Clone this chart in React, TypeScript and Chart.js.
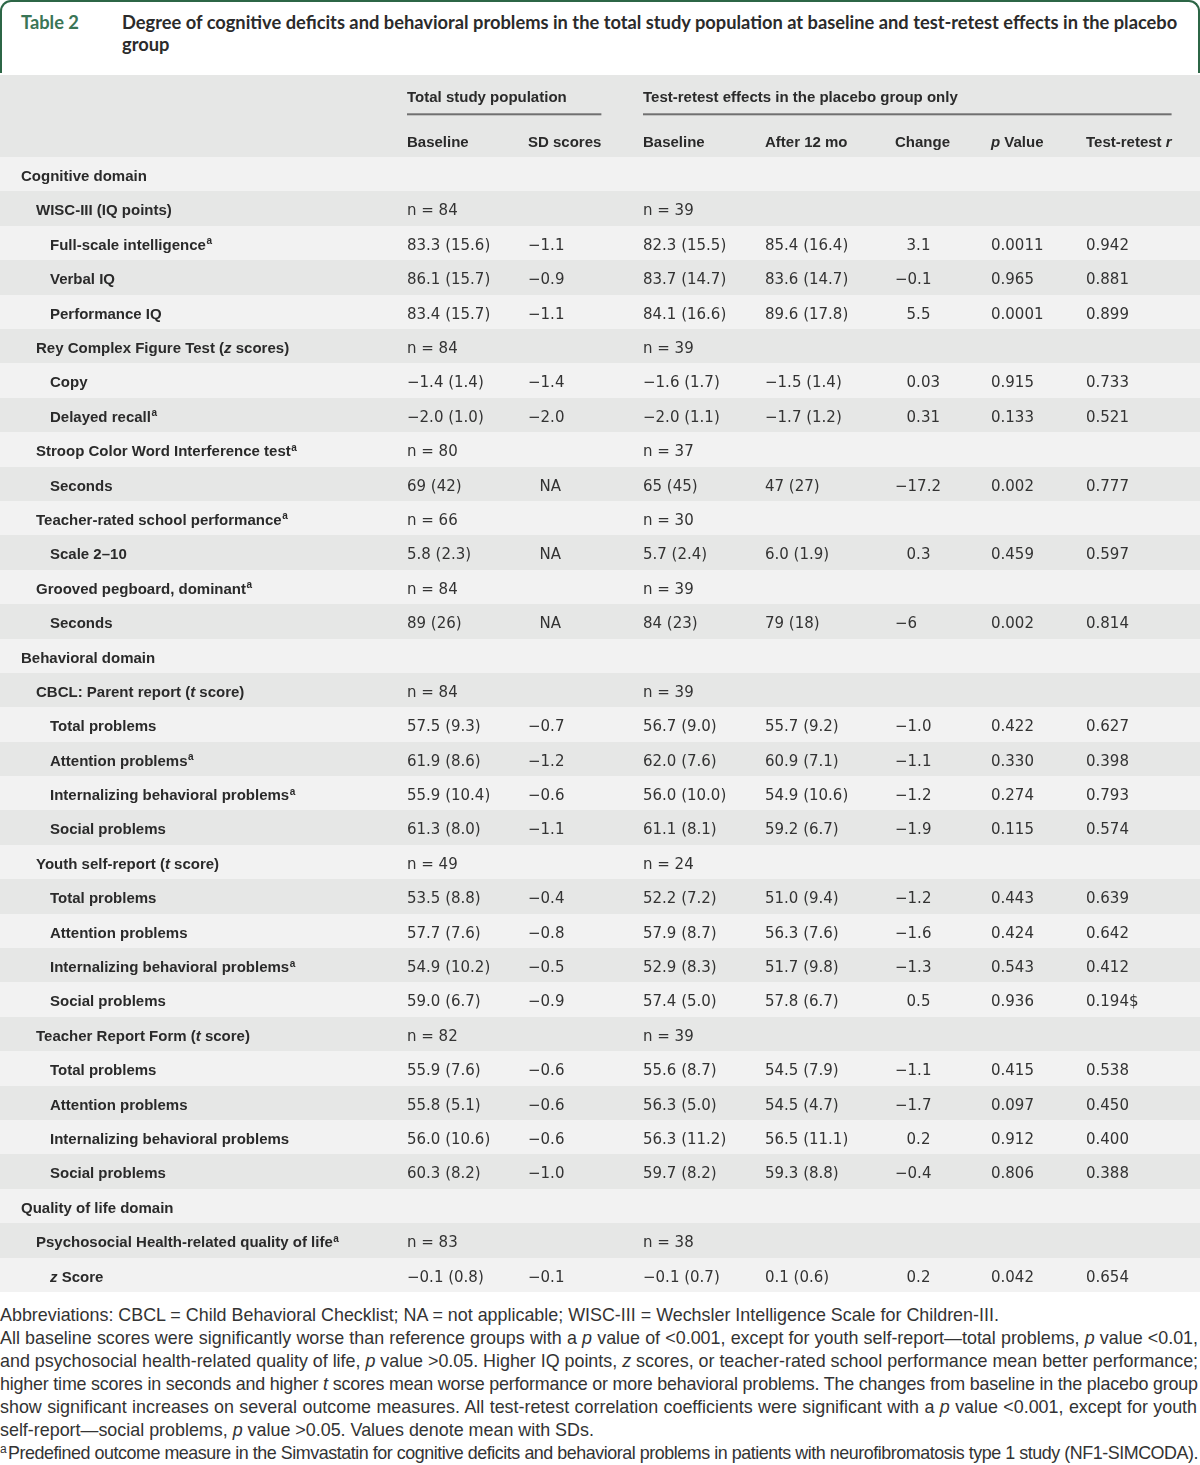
import React, { useEffect, useMemo, useRef } from "react";
import { Chart, registerables } from "chart.js";

Chart.register(...registerables);

// ---------- data ----------
const tableNumber = "Table 2";
const titleLines = [
  "Degree of cognitive deficits and behavioral problems in the total study population at baseline and test-retest effects in the placebo",
  "group",
];

const headerGroups = ["Total study population", "Test-retest effects in the placebo group only"];
const columnHeaders = ["Baseline", "SD scores", "Baseline", "After 12 mo", "Change", "_p_ Value", "Test-retest _r_"];

const rowLabels = [
  "Cognitive domain",
  "WISC-III (IQ points)",
  "Full-scale intelligence",
  "Verbal IQ",
  "Performance IQ",
  "Rey Complex Figure Test (_z_ scores)",
  "Copy",
  "Delayed recall",
  "Stroop Color Word Interference test",
  "Seconds",
  "Teacher-rated school performance",
  "Scale 2–10",
  "Grooved pegboard, dominant",
  "Seconds",
  "Behavioral domain",
  "CBCL: Parent report (_t_ score)",
  "Total problems",
  "Attention problems",
  "Internalizing behavioral problems",
  "Social problems",
  "Youth self-report (_t_ score)",
  "Total problems",
  "Attention problems",
  "Internalizing behavioral problems",
  "Social problems",
  "Teacher Report Form (_t_ score)",
  "Total problems",
  "Attention problems",
  "Internalizing behavioral problems",
  "Social problems",
  "Quality of life domain",
  "Psychosocial Health-related quality of life",
  "_z_ Score",
];

const rowLevels = [0, 1, 2, 2, 2, 1, 2, 2, 1, 2, 1, 2, 1, 2, 0, 1, 2, 2, 2, 2, 1, 2, 2, 2, 2, 1, 2, 2, 2, 2, 0, 1, 2];

const rowFootnoteA = [
  false, false, true, false, false, false, false, true, true, false, true, false, true, false,
  false, false, false, true, true, false, false, false, false, true, false, false, false, false,
  false, false, false, true, false,
];

const totalBaseline = [
  "", "n = 84", "83.3 (15.6)", "86.1 (15.7)", "83.4 (15.7)", "n = 84", "−1.4 (1.4)", "−2.0 (1.0)",
  "n = 80", "69 (42)", "n = 66", "5.8 (2.3)", "n = 84", "89 (26)", "", "n = 84", "57.5 (9.3)",
  "61.9 (8.6)", "55.9 (10.4)", "61.3 (8.0)", "n = 49", "53.5 (8.8)", "57.7 (7.6)", "54.9 (10.2)",
  "59.0 (6.7)", "n = 82", "55.9 (7.6)", "55.8 (5.1)", "56.0 (10.6)", "60.3 (8.2)", "", "n = 83", "−0.1 (0.8)",
];

const sdScores = [
  "", "", "−1.1", "−0.9", "−1.1", "", "−1.4", "−2.0", "", "NA", "", "NA", "", "NA", "", "", "−0.7",
  "−1.2", "−0.6", "−1.1", "", "−0.4", "−0.8", "−0.5", "−0.9", "", "−0.6", "−0.6", "−0.6", "−1.0", "", "", "−0.1",
];

const placeboBaseline = [
  "", "n = 39", "82.3 (15.5)", "83.7 (14.7)", "84.1 (16.6)", "n = 39", "−1.6 (1.7)", "−2.0 (1.1)",
  "n = 37", "65 (45)", "n = 30", "5.7 (2.4)", "n = 39", "84 (23)", "", "n = 39", "56.7 (9.0)",
  "62.0 (7.6)", "56.0 (10.0)", "61.1 (8.1)", "n = 24", "52.2 (7.2)", "57.9 (8.7)", "52.9 (8.3)",
  "57.4 (5.0)", "n = 39", "55.6 (8.7)", "56.3 (5.0)", "56.3 (11.2)", "59.7 (8.2)", "", "n = 38", "−0.1 (0.7)",
];

const after12Months = [
  "", "", "85.4 (16.4)", "83.6 (14.7)", "89.6 (17.8)", "", "−1.5 (1.4)", "−1.7 (1.2)", "", "47 (27)",
  "", "6.0 (1.9)", "", "79 (18)", "", "", "55.7 (9.2)", "60.9 (7.1)", "54.9 (10.6)", "59.2 (6.7)", "",
  "51.0 (9.4)", "56.3 (7.6)", "51.7 (9.8)", "57.8 (6.7)", "", "54.5 (7.9)", "54.5 (4.7)", "56.5 (11.1)",
  "59.3 (8.8)", "", "", "0.1 (0.6)",
];

const changeValues = [
  "", "", "3.1", "−0.1", "5.5", "", "0.03", "0.31", "", "−17.2", "", "0.3", "", "−6", "", "", "−1.0",
  "−1.1", "−1.2", "−1.9", "", "−1.2", "−1.6", "−1.3", "0.5", "", "−1.1", "−1.7", "0.2", "−0.4", "", "", "0.2",
];

const pValues = [
  "", "", "0.0011", "0.965", "0.0001", "", "0.915", "0.133", "", "0.002", "", "0.459", "", "0.002", "",
  "", "0.422", "0.330", "0.274", "0.115", "", "0.443", "0.424", "0.543", "0.936", "", "0.415", "0.097",
  "0.912", "0.806", "", "", "0.042",
];

const testRetestR = [
  "", "", "0.942", "0.881", "0.899", "", "0.733", "0.521", "", "0.777", "", "0.597", "", "0.814", "",
  "", "0.627", "0.398", "0.793", "0.574", "", "0.639", "0.642", "0.412", "0.194$", "", "0.538", "0.450",
  "0.400", "0.388", "", "", "0.654",
];

const footnoteLines = [
  "Abbreviations: CBCL = Child Behavioral Checklist; NA = not applicable; WISC-III = Wechsler Intelligence Scale for Children-III.",
  "All baseline scores were significantly worse than reference groups with a _p_ value of <0.001, except for youth self-report—total problems, _p_ value <0.01,",
  "and psychosocial health-related quality of life, _p_ value >0.05. Higher IQ points, _z_ scores, or teacher-rated school performance mean better performance;",
  "higher time scores in seconds and higher _t_ scores mean worse performance or more behavioral problems. The changes from baseline in the placebo group",
  "show significant increases on several outcome measures. All test-retest correlation coefficients were significant with a _p_ value <0.001, except for youth",
  "self-report—social problems, _p_ value >0.05. Values denote mean with SDs.",
  "Predefined outcome measure in the Simvastatin for cognitive deficits and behavioral problems in patients with neurofibromatosis type 1 study (NF1-SIMCODA).",
];
const footnoteJustified = [false, true, true, true, true, false, true];

// ---------- layout / style ----------
const columns = [totalBaseline, sdScores, placeboBaseline, after12Months, changeValues, pValues, testRetestR];
const colX = [407, 528, 643, 765, 895, 991, 1086];
const colHangMinus = [false, true, false, false, true, false, false];
const headerGroupSpan = [
  [0, 1],
  [2, 6],
];
const levelX = [21, 36, 50];

const GREEN_BORDER = "#2c6646";
const GREEN_TEXT = "#3a7556";
const HEADER_BG = "#e6e7e6";
const ROW_LIGHT = "#f2f2f2";
const ROW_DARK = "#e6e7e6";
const LABEL_COLOR = "#2a2a2a";
const VALUE_COLOR = "#333333";
const RULE_COLOR = "#707070";

const LABEL_FONT = 'bold 15px "Liberation Sans", Arial, sans-serif';
const LABEL_ITALIC = 'italic bold 15px "Liberation Sans", Arial, sans-serif';
const SUP_FONT = 'bold 10px "Liberation Sans", Arial, sans-serif';
const VALUE_FONT = '15px "DejaVu Sans", sans-serif';
const TITLE_FONT = '700 18.3px Lato, "Liberation Sans", sans-serif';
const NOTE_SIZE = 17.9;
const NOTE_FONT = `${NOTE_SIZE}px "Liberation Sans", Arial, sans-serif`;
const NOTE_WIDTH = 1198;
const SUP_NOTE_W = 8;

const CANVAS_W = 1200;
const CANVAS_TOP = 75;
const CANVAS_H = 1217;
const HEADER_H = 82;
const TEXT_DY = 6.8;

function drawRich(
  ctx: CanvasRenderingContext2D,
  text: string,
  x: number,
  y: number,
  font: string,
  italic: string,
  measureOnly = false
): number {
  const parts = text.split("_");
  let cx = x;
  parts.forEach((p, i) => {
    if (!p) return;
    ctx.font = i % 2 === 1 ? italic : font;
    if (!measureOnly) ctx.fillText(p, cx, y);
    cx += ctx.measureText(p).width;
  });
  return cx;
}

const tablePlugin = {
  id: "tableCells",
  afterDraw(chart: any) {
    const { ctx, chartArea, scales } = chart;
    const xs = scales.x;
    const ys = scales.y;
    const left = xs.left;
    const right = xs.right;
    ctx.save();
    ctx.textAlign = "left";
    ctx.textBaseline = "alphabetic";

    // header band
    ctx.fillStyle = HEADER_BG;
    ctx.fillRect(left, 0, right - left, chartArea.top);

    // row stripes
    const band = ys.getPixelForValue(1) - ys.getPixelForValue(0);
    for (let i = 0; i < rowLabels.length; i++) {
      const c = ys.getPixelForValue(i);
      const t = Math.round(c - band / 2);
      const b = Math.round(c + band / 2);
      ctx.fillStyle = i % 2 === 0 ? ROW_LIGHT : ROW_DARK;
      ctx.fillRect(left, t, right - left, b - t);
    }

    // header text
    const hy1 = chartArea.top - 55.3;
    const hy2 = chartArea.top - 10.3;
    const ruleY = chartArea.top - 43.7;
    headerGroups.forEach((g, gi) => {
      const [c0, c1] = headerGroupSpan[gi];
      const x0 = xs.getPixelForValue(colX[c0]);
      ctx.fillStyle = LABEL_COLOR;
      drawRich(ctx, g, x0, hy1, LABEL_FONT, LABEL_ITALIC);
      const x1 = drawRich(ctx, columnHeaders[c1], xs.getPixelForValue(colX[c1]), hy2, LABEL_FONT, LABEL_ITALIC, true);
      ctx.fillStyle = RULE_COLOR;
      ctx.fillRect(x0, ruleY, x1 - x0, 2);
    });
    ctx.fillStyle = LABEL_COLOR;
    columnHeaders.forEach((h, j) => {
      drawRich(ctx, h, xs.getPixelForValue(colX[j]), hy2, LABEL_FONT, LABEL_ITALIC);
    });

    // row labels
    rowLabels.forEach((lab, i) => {
      const y = ys.getPixelForValue(i) + TEXT_DY;
      ctx.fillStyle = LABEL_COLOR;
      const end = drawRich(ctx, lab, xs.getPixelForValue(levelX[rowLevels[i]]), y, LABEL_FONT, LABEL_ITALIC);
      if (rowFootnoteA[i]) {
        ctx.font = SUP_FONT;
        ctx.fillText("a", end + 0.5, y - 5.5);
      }
    });

    // values
    ctx.font = VALUE_FONT;
    const minusW = ctx.measureText("−").width;
    ctx.fillStyle = VALUE_COLOR;
    columns.forEach((col, j) => {
      col.forEach((s, i) => {
        if (!s) return;
        let x = xs.getPixelForValue(colX[j]);
        if (colHangMinus[j] && !s.startsWith("−")) x += minusW - 1;
        ctx.fillText(s, x, ys.getPixelForValue(i) + TEXT_DY);
      });
    });
    ctx.restore();
  },
};

function Rich({ text }: { text: string }) {
  const parts = text.split("_");
  return (
    <>
      {parts.map((p, i) => (i % 2 === 1 ? <i key={i}>{p}</i> : <React.Fragment key={i}>{p}</React.Fragment>))}
    </>
  );
}

export default function App() {
  const canvasRef = useRef<HTMLCanvasElement | null>(null);

  const spacing = useMemo(() => {
    const c = document.createElement("canvas");
    const ctx = c.getContext("2d") as CanvasRenderingContext2D;
    return footnoteLines.map((l, i) => {
      if (!footnoteJustified[i]) return { word: 0, letter: 0 };
      const plain = l.replace(/_/g, "");
      ctx.font = NOTE_FONT;
      let w = ctx.measureText(plain).width;
      if (i === footnoteLines.length - 1) w += SUP_NOTE_W;
      const spaces = (plain.match(/ /g) || []).length;
      const extra = NOTE_WIDTH - w;
      if (extra >= 0) return { word: spaces ? extra / spaces : 0, letter: 0 };
      return { word: 0, letter: extra / plain.length };
    });
  }, []);

  useEffect(() => {
    const canvas = canvasRef.current;
    if (!canvas) return;
    const chart = new Chart(canvas, {
      type: "bar",
      data: {
        labels: rowLabels.map((l) => l.replace(/_/g, "")),
        datasets: [],
      },
      options: {
        indexAxis: "y",
        responsive: false,
        maintainAspectRatio: false,
        animation: false,
        events: [],
        layout: { padding: { top: HEADER_H, left: 0, right: 0, bottom: 0 } },
        scales: {
          x: { type: "linear", min: 0, max: CANVAS_W, display: false },
          y: { type: "category", offset: true, display: false },
        },
        plugins: { legend: { display: false }, tooltip: { enabled: false }, title: { display: false } },
      },
      plugins: [tablePlugin],
    } as any);
    return () => chart.destroy();
  }, []);

  return (
    <div style={{ position: "relative", width: 1200, height: 1465, background: "#fff", overflow: "hidden" }}>
      <style>{"body{margin:0;}"}</style>
      <div
        style={{
          position: "absolute",
          left: 0,
          top: 0,
          width: 1200,
          height: 73,
          boxSizing: "border-box",
          border: `2px solid ${GREEN_BORDER}`,
          borderBottom: "none",
          borderRadius: "11px 11px 0 0",
          background: "#fff",
        }}
      />
      <div
        style={{
          position: "absolute",
          left: 21,
          top: 11,
          font: TITLE_FONT,
          lineHeight: "22.4px",
          color: GREEN_TEXT,
          whiteSpace: "nowrap",
        }}
      >
        {tableNumber}
      </div>
      <div
        style={{
          position: "absolute",
          left: 122,
          top: 11,
          width: 1070,
          font: TITLE_FONT,
          lineHeight: "22.4px",
          color: "#2b2b2b",
        }}
      >
        {titleLines.map((l, i) => (
          <div key={i} style={{ whiteSpace: "nowrap" }}>
            {l}
          </div>
        ))}
      </div>
      <canvas
        ref={canvasRef}
        width={CANVAS_W}
        height={CANVAS_H}
        style={{ position: "absolute", left: 0, top: CANVAS_TOP, width: CANVAS_W, height: CANVAS_H, display: "block" }}
      />
      <div
        style={{
          position: "absolute",
          left: 0,
          top: 1304,
          width: 1200,
          font: NOTE_FONT,
          lineHeight: "23px",
          color: "#333",
        }}
      >
        {footnoteLines.map((l, i) => (
          <div
            key={i}
            style={{
              whiteSpace: "nowrap",
              wordSpacing: `${spacing[i].word}px`,
              letterSpacing: `${spacing[i].letter}px`,
            }}
          >
            {i === footnoteLines.length - 1 ? (
              <span
                style={{ fontSize: 12, position: "relative", top: -6, display: "inline-block", width: SUP_NOTE_W, letterSpacing: 0 }}
              >
                a
              </span>
            ) : null}
            <Rich text={l} />
          </div>
        ))}
      </div>
    </div>
  );
}
